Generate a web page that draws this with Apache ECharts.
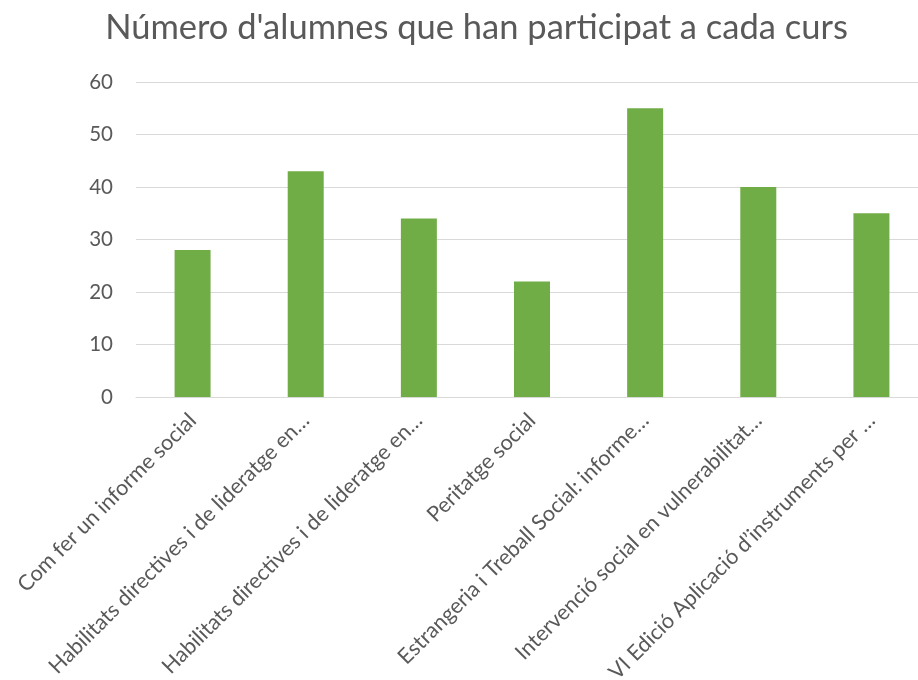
<!DOCTYPE html>
<html>
<head>
<meta charset="utf-8">
<script src="https://cdn.jsdelivr.net/npm/echarts@6/dist/echarts.min.js"></script>
<style>html,body{margin:0;padding:0;background:#fff;overflow:hidden;width:918px;height:680px}#c{width:953px;height:680px}</style>
</head>
<body>
<div id="c"></div>
<script>
const titleText = "Número d'alumnes que han participat a cada curs";
const categories = [
  "Com fer un informe social",
  "Habilitats directives i de lideratge en…",
  "Habilitats directives i de lideratge en…",
  "Peritatge social",
  "Estrangeria i Treball Social: informe…",
  "Intervenció social en vulnerabilitat…",
  "VI Edició Aplicació d’instruments per …"
];
const values = [28, 43, 34, 22, 55, 40, 35];
const yTicks = { min: 0, max: 60, interval: 10 };

const chart = echarts.init(document.getElementById('c'), null, { renderer: 'canvas' });
chart.setOption({
  animation: false,
  backgroundColor: '#ffffff',
  title: {
    text: titleText,
    left: 'center',
    top: 5,
    textStyle: { fontFamily: 'Lato', fontSize: 34.5, fontWeight: 'normal', color: '#595959' }
  },
  grid: { left: 136, width: 792, top: 82, bottom: 283, containLabel: false, outerBoundsMode: 'none' },
  xAxis: {
    type: 'category',
    data: categories.map((c, i) => ({ value: i + '', label: c })),
    axisLine: { lineStyle: { color: '#d9d9d9', width: 1 } },
    axisTick: { show: false },
    axisLabel: {
      interval: 0,
      rotate: 45,
      margin: 20,
      fontFamily: 'Lato',
      fontSize: 21.5,
      color: '#595959',
      formatter: (v) => categories[+v]
    }
  },
  yAxis: {
    type: 'value',
    min: yTicks.min, max: yTicks.max, interval: yTicks.interval,
    axisLine: { show: false },
    axisTick: { show: false },
    axisLabel: { margin: 23, fontFamily: 'Lato', fontSize: 20.5, color: '#595959' },
    splitLine: { lineStyle: { color: '#d9d9d9', width: 1 } }
  },
  series: [{
    type: 'bar',
    data: values,
    barWidth: 36,
    itemStyle: { color: '#70ad47' }
  }]
});
</script>
</body>
</html>
